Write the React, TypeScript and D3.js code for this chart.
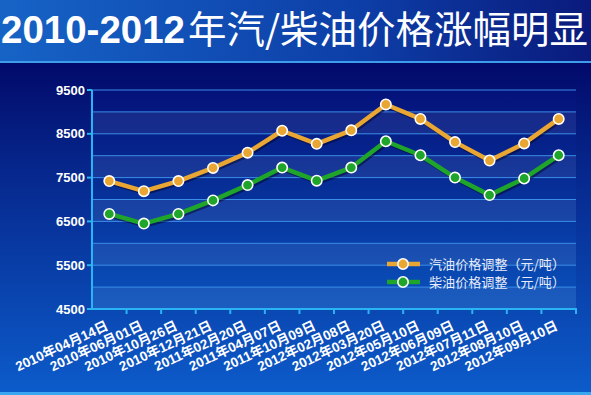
import React from 'react';
import * as d3 from 'd3';

const dates = [
  '2010年04月14日', '2010年06月01日', '2010年10月26日', '2010年12月21日',
  '2011年02月20日', '2011年04月07日', '2011年10月09日', '2012年02月08日',
  '2012年03月20日', '2012年05月10日', '2012年06月09日', '2012年07月11日',
  '2012年08月10日', '2012年09月10日',
];
const gasoline = [7420, 7190, 7420, 7720, 8070, 8570, 8270, 8580, 9170, 8840, 8310, 7890, 8280, 8840];
const diesel = [6670, 6450, 6670, 6980, 7330, 7730, 7430, 7730, 8330, 8010, 7500, 7100, 7480, 8010];
const yTicks = [4500, 5500, 6500, 7500, 8500, 9500];
const gridValues = d3.range(4500, 9501, 500);

const seriesList = [
  { name: '汽油价格调整（元/吨）', values: gasoline, color: '#eaa632' },
  { name: '柴油价格调整（元/吨）', values: diesel, color: '#1fa52a' },
];

const W = 591;
const H = 395;
const plot = { left: 92, right: 576, top: 90, bottom: 309 };

export default function App() {
  const x = d3.scaleBand<string>().domain(dates).range([plot.left, plot.right]);
  const y = d3.scaleLinear().domain([4500, 9500]).range([plot.bottom, plot.top]);
  const cx = (i: number) => (x(dates[i]) as number) + x.bandwidth() / 2;

  const line = d3.line<number>()
    .x((_, i) => cx(i))
    .y(d => y(d));

  return (
    <svg width={W} height={H} style={{ position: 'absolute', left: 0, top: 0, display: 'block' }}
      fontFamily="Arial, 'Liberation Sans', 'Noto Sans CJK SC', sans-serif">
      <defs>
        <linearGradient id="titleBg" x1="0" y1="0" x2="1" y2="0">
          <stop offset="0" stopColor="#1663c6" />
          <stop offset="0.6" stopColor="#0d3fa8" />
          <stop offset="1" stopColor="#0a1a7c" />
        </linearGradient>
        <linearGradient id="panelBg" x1="0" y1="0" x2="0" y2="1">
          <stop offset="0" stopColor="#020a6a" />
          <stop offset="0.3" stopColor="#06258a" />
          <stop offset="1" stopColor="#0c5ccb" />
        </linearGradient>
        <linearGradient id="plotBg" x1="0" y1="0" x2="0" y2="1">
          <stop offset="0" stopColor="#04127a" />
          <stop offset="1" stopColor="#0a52bc" />
        </linearGradient>
      </defs>

      {/* title bar */}
      <rect x={0} y={0} width={W} height={62} fill="url(#titleBg)" />
      <rect x={0} y={61} width={W} height={2} fill="#3d9cec" />
      <text x={1} y={43} fill="#ffffff" fontSize={38} fontWeight="bold" textLength={184}
        lengthAdjust="spacingAndGlyphs" fontFamily="Arial, 'Liberation Sans', sans-serif">2010-2012</text>
      <text x={188} y={43} fill="#ffffff" fontSize={38} textLength={400}
        lengthAdjust="spacingAndGlyphs" fontFamily="'Noto Sans CJK SC', sans-serif">年汽/柴油价格涨幅明显</text>

      {/* chart panel */}
      <rect x={0} y={63} width={W} height={H - 63} fill="url(#panelBg)" />
      <rect x={0} y={392} width={W} height={3} fill="#3aa6f2" />

      {/* plot area with alternating bands */}
      <rect x={plot.left} y={plot.top} width={plot.right - plot.left} height={plot.bottom - plot.top} fill="url(#plotBg)" />
      {gridValues.slice(0, -1).map((v, i) => (
        i % 2 === 0 ? (
          <rect key={'b' + v} x={plot.left} y={y(v + 500)} width={plot.right - plot.left}
            height={y(v) - y(v + 500)} fill="#ffffff" opacity={0.07} />
        ) : null
      ))}
      {gridValues.map(v => (
        <line key={'g' + v} x1={plot.left} x2={plot.right} y1={y(v)} y2={y(v)} stroke="#3b8de6" strokeWidth={1} />
      ))}

      {/* axes */}
      <line x1={plot.left} x2={plot.left} y1={plot.top} y2={plot.bottom + 1} stroke="#2ab4f4" strokeWidth={2} />
      <line x1={plot.left - 5} x2={plot.right + 1} y1={plot.bottom} y2={plot.bottom} stroke="#2ab4f4" strokeWidth={2} />
      {yTicks.map(v => (
        <g key={'yt' + v}>
          <line x1={plot.left - 5} x2={plot.left} y1={y(v)} y2={y(v)} stroke="#2ab4f4" strokeWidth={2} />
          <text x={plot.left - 7} y={y(v)} dy="0.35em" textAnchor="end" fill="#ffffff" fontSize={13} fontWeight="bold">{v}</text>
        </g>
      ))}
      {dates.map(d => (
        <line key={'xt' + d} x1={(x(d) as number) + x.bandwidth()} x2={(x(d) as number) + x.bandwidth()}
          y1={plot.bottom} y2={plot.bottom + 5} stroke="#2ab4f4" strokeWidth={2} />
      ))}
      {dates.map((d, i) => (
        <text key={'xl' + d} transform={`translate(${cx(i)},${plot.bottom + 20}) rotate(-25)`}
          textAnchor="end" fill="#ffffff" fontSize={13.5} fontWeight="bold">{d}</text>
      ))}

      {/* series */}
      {seriesList.map(s => (
        <g key={s.name}>
          <path d={line(s.values) || ''} fill="none" stroke="#000020" strokeOpacity={0.45} strokeWidth={4}
            transform="translate(1.5,2)" strokeLinejoin="round" />
          <path d={line(s.values) || ''} fill="none" stroke={s.color} strokeWidth={4.5} strokeLinejoin="round" />
          {s.values.map((v, i) => (
            <circle key={i} cx={cx(i)} cy={y(v)} r={5.2} fill={s.color} stroke="#ffffff" strokeWidth={1.6} />
          ))}
        </g>
      ))}

      {/* legend */}
      {seriesList.map((s, i) => {
        const ly = 264 + i * 18;
        return (
          <g key={'lg' + s.name}>
            <line x1={387} x2={420} y1={ly} y2={ly} stroke={s.color} strokeWidth={4.5} />
            <circle cx={403} cy={ly} r={5.2} fill={s.color} stroke="#ffffff" strokeWidth={1.6} />
            <text x={429} y={ly} dy="0.36em" fill="#e8ecf8" fontSize={13} textLength={136}
              lengthAdjust="spacingAndGlyphs"
              fontFamily="'Noto Sans CJK SC', sans-serif">{s.name}</text>
          </g>
        );
      })}
    </svg>
  );
}
